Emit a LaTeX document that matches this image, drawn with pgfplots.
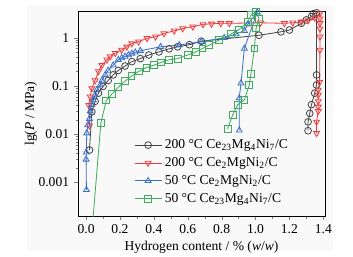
\documentclass[border=0pt]{standalone}
\usepackage{fontspec}
\setmainfont{Liberation Serif}
\usepackage{pgfplots}
\pgfplotsset{compat=1.18}
\pgfdeclarelayer{bg}
\pgfsetlayers{bg,main}
\definecolor{cblack}{HTML}{454545}
\definecolor{cred}{HTML}{EE3B3B}
\definecolor{cblue}{HTML}{3A6FC8}
\definecolor{cgreen}{HTML}{3DAA5C}
\definecolor{panel}{HTML}{F9F9F9}
\begin{document}
\begin{tikzpicture}
\begin{axis}[
  name=ax,
  scale only axis,
  width=181.9pt, height=151pt,
  ymode=log,
  xmin=-0.048, xmax=1.41,
  ymin=2e-4, ymax=3.6,
  xtick={0,0.2,0.4,0.6,0.8,1.0,1.2,1.4},
  xticklabels={0.0,0.2,0.4,0.6,0.8,1.0,1.2,1.4},
  minor x tick num=1,
  ytick={0.001,0.01,0.1,1},
  yticklabels={0.001,0.01,0.1,1},
  xtick pos=bottom, ytick pos=left,
  tick align=outside,
  major tick length=3pt, minor tick length=1.8pt,
  /pgf/number format/assume math mode=true,
  tick label style={font=\fontsize{10}{12}\selectfont},
  label style={font=\fontsize{10}{12}\selectfont},
  xlabel={Hydrogen content / \% (\textit{w}/\textit{w})},
  ylabel={lg(\textit{P} / MPa)},
  xlabel style={at={(axis description cs:0.5,-0.097)},anchor=north},
  ylabel style={at={(axis description cs:-0.146,0.5)},anchor=south},
  every axis plot/.append style={line width=0.6pt, mark size=2.5pt, mark options={solid, fill=white, line width=0.6pt}},
  legend style={draw=none, fill=none, at={(axis description cs:0.21,0.03)}, anchor=south west,
    font=\fontsize{10}{12}\selectfont, row sep=1pt},
  legend cell align=left,
  legend image code/.code={\draw[mark repeat=2,mark phase=2] plot coordinates {(0cm,0cm) (0.35cm,0cm) (0.7cm,0cm)};},
]
% 200 C Ce23Mg4Ni7/C
\addplot[color=cblack, mark=o] coordinates {
(0.02,0.0047)(0.034,0.029)(0.053,0.048)(0.073,0.071)(0.10,0.098)(0.13,0.13)
(0.16,0.17)(0.19,0.21)(0.23,0.26)(0.27,0.32)(0.32,0.37)(0.37,0.44)
(0.43,0.51)(0.49,0.59)(0.54,0.65)(0.61,0.72)(0.68,0.85)
(1.02,1.13)(1.15,1.33)(1.20,1.45)(1.27,2.0)(1.30,2.35)(1.33,2.75)(1.34,3.15)
(1.36,3.3)(1.36,0.17)(1.36,0.105)(1.349,0.071)(1.33,0.041)(1.32,0.027)(1.31,0.018)(1.31,0.0118)
};
\addlegendentry{200 °C Ce\textsubscript{23}Mg\textsubscript{4}Ni\textsubscript{7}/C}
% 200 C Ce2MgNi2/C
\addplot[color=cred, mark=triangle, every mark/.append style={rotate=180}] coordinates {
(0.02,0.015)(0.016,0.04)(0.024,0.06)(0.034,0.089)(0.053,0.13)(0.073,0.2)
(0.093,0.27)(0.123,0.35)(0.142,0.41)(0.172,0.48)(0.21,0.56)(0.24,0.65)
(0.27,0.76)(0.31,0.83)(0.36,0.98)(0.41,1.05)(0.46,1.23)(0.52,1.4)
(0.57,1.56)(0.63,1.7)(0.69,1.9)(0.74,1.95)(0.795,2.0)(0.845,2.0)
(1.03,2.05)(1.17,2.0)(1.22,2.05)(1.27,2.15)(1.31,2.3)(1.35,2.6)(1.38,3.2)
(1.38,2.5)(1.38,2.0)(1.38,1.55)(1.38,1.05)(1.38,0.56)(1.378,0.12)
(1.37,0.083)(1.37,0.065)(1.37,0.048)(1.37,0.037)(1.37,0.03)(1.36,0.018)(1.36,0.0105)
};
\addlegendentry{200 °C Ce\textsubscript{2}MgNi\textsubscript{2}/C}
% 50 C Ce2MgNi2/C
\addplot[color=cblue, mark=triangle] coordinates {
(0.002,0.0007)(0.0,0.003)(0.001,0.0042)(0.004,0.0105)(0.01,0.0155)(0.02,0.021)
(0.024,0.03)(0.034,0.041)(0.043,0.051)(0.053,0.065)(0.063,0.083)(0.083,0.105)
(0.093,0.13)(0.113,0.17)(0.13,0.21)(0.16,0.27)(0.19,0.35)(0.21,0.38)(0.23,0.41)
(0.25,0.44)(0.27,0.47)(0.29,0.5)(0.32,0.54)(0.44,0.65)(0.55,0.71)(0.68,0.83)
(0.815,1.0)(0.885,1.2)(0.934,1.4)(0.954,1.9)(1.01,3.4)
(0.934,0.6)(0.914,0.114)(0.904,0.056)(0.904,0.012)
};
\addlegendentry{50 °C Ce\textsubscript{2}MgNi\textsubscript{2}/C}
% 50 C Ce23Mg4Ni7/C
\addplot[color=cgreen, mark=square] coordinates {
(0.035,0.0001)(0.087,0.017)(0.119,0.05)(0.152,0.068)(0.19,0.094)(0.23,0.126)
(0.267,0.16)(0.31,0.2)(0.356,0.24)(0.4,0.27)(0.443,0.31)(0.49,0.35)
(0.54,0.37)(0.6,0.44)(0.647,0.51)(0.687,0.6)(0.726,0.7)(0.785,0.9)
(0.855,1.2)(0.904,1.5)(0.954,2.1)(0.973,2.95)(1.003,3.4)
(1.02,2.5)(1.003,1.56)(0.993,0.6)(0.973,0.18)(0.963,0.105)(0.934,0.051)
(0.894,0.041)(0.865,0.025)(0.835,0.013)
};
\addlegendentry{50 °C Ce\textsubscript{23}Mg\textsubscript{4}Ni\textsubscript{7}/C}
\end{axis}
\begin{pgfonlayer}{bg}
\fill[panel] ([shift={(-37.6pt,-25.8pt)}]ax.south west) rectangle ([shift={(5.9pt,4.4pt)}]ax.north east);
\end{pgfonlayer}
\pgfresetboundingbox
\path ([shift={(-57.4pt,-29.5pt)}]ax.south west) rectangle ([shift={(20.6pt,8.1pt)}]ax.north east);
\end{tikzpicture}
\end{document}
